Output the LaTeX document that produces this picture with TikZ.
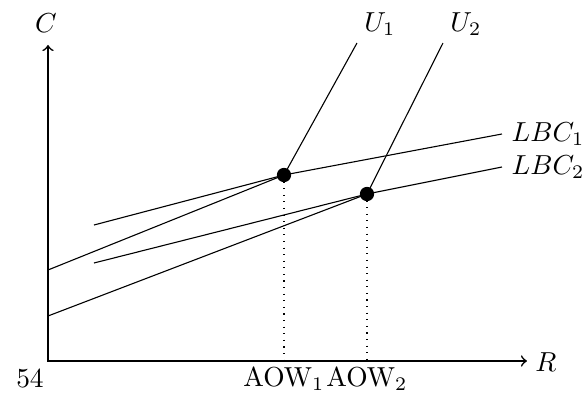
\documentclass[tikz,border=0pt]{standalone}
\begin{document}
\begin{tikzpicture}[x=0.364pt,y=-0.364pt,
  axis/.style={semithick},
  curve/.style={thin},
  guide/.style={dotted},
  dot/.style={circle,fill=black,inner sep=0pt,minimum size=5.2pt}]
\useasboundingbox (0,0) rectangle (582,394);
% axes
\coordinate (O) at (48,361);
\coordinate (Ytop) at (48,45);
\coordinate (Xend) at (527,361);
\draw[axis,<->] (Ytop) -- (O) -- (Xend);
\node (Clab) at (46,23) {$C$};
\node (Rlab) at (546,362) {$R$};
\node (n54) at (30,379) {54};
% key points
\coordinate (A) at (284,175);
\coordinate (B) at (367,194);
\coordinate (Ax) at (284,361);
\coordinate (Bx) at (367,361);
% LBC1
\coordinate (L1a) at (48,270);
\coordinate (L1b) at (94,225);
\coordinate (L1e) at (502,134);
\draw[curve] (L1a) -- (A);
\draw[curve] (L1b) -- (A) -- (L1e);
% LBC2
\coordinate (L2a) at (48,316);
\coordinate (L2b) at (94,263);
\coordinate (L2e) at (502,167);
\draw[curve] (L2a) -- (B);
\draw[curve] (L2b) -- (B) -- (L2e);
% indifference curves
\coordinate (U1e) at (357,43);
\coordinate (U2e) at (443,43);
\draw[curve] (A) -- (U1e);
\draw[curve] (B) -- (U2e);
% guides
\draw[guide] (A) -- (Ax);
\draw[guide] (B) -- (Bx);
\node[dot] (Adot) at (A) {};
\node[dot] (Bdot) at (B) {};
% labels
\node (U1lab) at (380,24) {$U_1$};
\node (U2lab) at (466,24) {$U_2$};
\node[anchor=west] (LBC1lab) at (L1e) {$LBC_1$};
\node[anchor=west] (LBC2lab) at (L2e) {$LBC_2$};
\node (AOW1) at (284,379) {AOW$_1$};
\node (AOW2) at (367,379) {AOW$_2$};
\end{tikzpicture}
\end{document}
